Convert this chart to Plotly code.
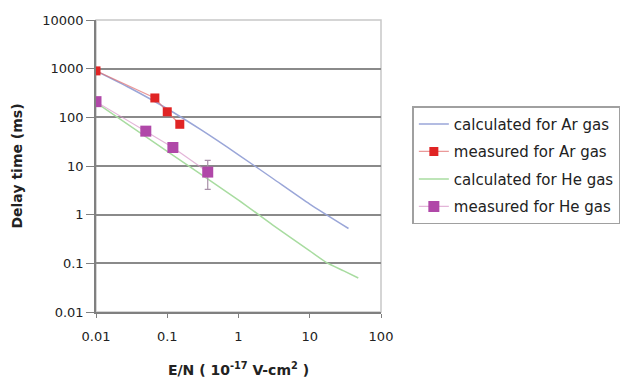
import plotly.graph_objects as go

# Calculated curves
ar_calc_x = [0.01, 0.03, 0.1, 0.3, 1, 3, 10, 35]
ar_calc_y = [900, 400, 150, 55, 17, 5.6, 1.65, 0.52]
he_calc_x = [0.01, 0.1, 1, 3, 10, 17, 30, 48]
he_calc_y = [200, 20, 2, 0.62, 0.18, 0.105, 0.07, 0.05]

# Measured points
ar_meas_x = [0.01, 0.067, 0.1, 0.15]
ar_meas_y = [900, 250, 130, 72]
he_meas_x = [0.01, 0.05, 0.12, 0.37]
he_meas_y = [210, 52, 24, 7.5]
he_err_plus = [0, 0, 3, 5.5]
he_err_minus = [0, 0, 4, 4.2]

x_ticks = [0.01, 0.1, 1, 10, 100]
x_ticktext = ["0.01", "0.1", "1", "10", "100"]
y_ticks = [0.01, 0.1, 1, 10, 100, 1000, 10000]
y_ticktext = ["0.01", "0.1", "1", "10", "100", "1000", "10000"]

font = "DejaVu Sans, Arial, sans-serif"

fig = go.Figure()
fig.add_trace(go.Scatter(x=ar_calc_x, y=ar_calc_y, mode="lines", name="calculated for Ar gas",
                         line=dict(color="#9aa6d8", width=1.5, shape="spline", smoothing=0.6), legendgroup="a"))
fig.add_trace(go.Scatter(x=ar_meas_x, y=ar_meas_y, mode="lines+markers", name="measured for Ar gas",
                         line=dict(color="rgba(225,110,110,0.7)", width=1.2),
                         marker=dict(symbol="square", size=9, color="#e02424"), legendgroup="b"))
fig.add_trace(go.Scatter(x=he_calc_x, y=he_calc_y, mode="lines", name="calculated for He gas",
                         line=dict(color="#a8dca0", width=1.5, shape="spline", smoothing=0.6), legendgroup="c"))
fig.add_trace(go.Scatter(x=he_meas_x, y=he_meas_y, mode="lines+markers", name="measured for He gas",
                         line=dict(color="rgba(215,150,200,0.7)", width=1.2),
                         marker=dict(symbol="square", size=11, color="#b048a8"),
                         error_y=dict(type="data", symmetric=False, array=he_err_plus,
                                      arrayminus=he_err_minus, color="#a890a8", thickness=1.2, width=3),
                         legendgroup="d"))

fig.update_layout(
    width=624, height=386,
    margin=dict(l=96, r=243, t=20, b=74, autoexpand=False),
    paper_bgcolor="white", plot_bgcolor="white",
    font=dict(family=font, size=13, color="#222222"),
    legend=dict(x=1.11, y=0.705, xanchor="left", yanchor="top",
                bordercolor="#a0a0a0", borderwidth=1.5, bgcolor="white",
                font=dict(size=15, color="#222222"), tracegroupgap=5),
    showlegend=True,
)
fig.update_xaxes(type="log", range=[-2, 2], tickvals=x_ticks, ticktext=x_ticktext,
                 showgrid=False, showline=True, linecolor="#808080", linewidth=1.5,
                 ticks="outside", ticklen=4, tickcolor="#808080", mirror=False,
                 ticklabelstandoff=8,
                 title=dict(text="<b>E/N ( 10<sup>-17</sup> V-cm<sup>2</sup> )</b>", font=dict(size=14), standoff=22))
fig.update_yaxes(type="log", range=[-2, 4], tickvals=y_ticks, ticktext=y_ticktext,
                 showgrid=True, gridcolor="#8a8a8a", gridwidth=1.5,
                 showline=True, linecolor="#808080", linewidth=1.5,
                 ticks="outside", ticklen=8, tickcolor="#808080",
                 title=dict(text="<b>Delay time (ms)</b>", font=dict(size=14), standoff=16))
# light frame on top/right
fig.add_shape(type="rect", xref="paper", yref="paper", x0=0, y0=0, x1=1, y1=1,
              line=dict(color="#c8c8c8", width=1.5), layer="below")

fig.write_html("out.html")
